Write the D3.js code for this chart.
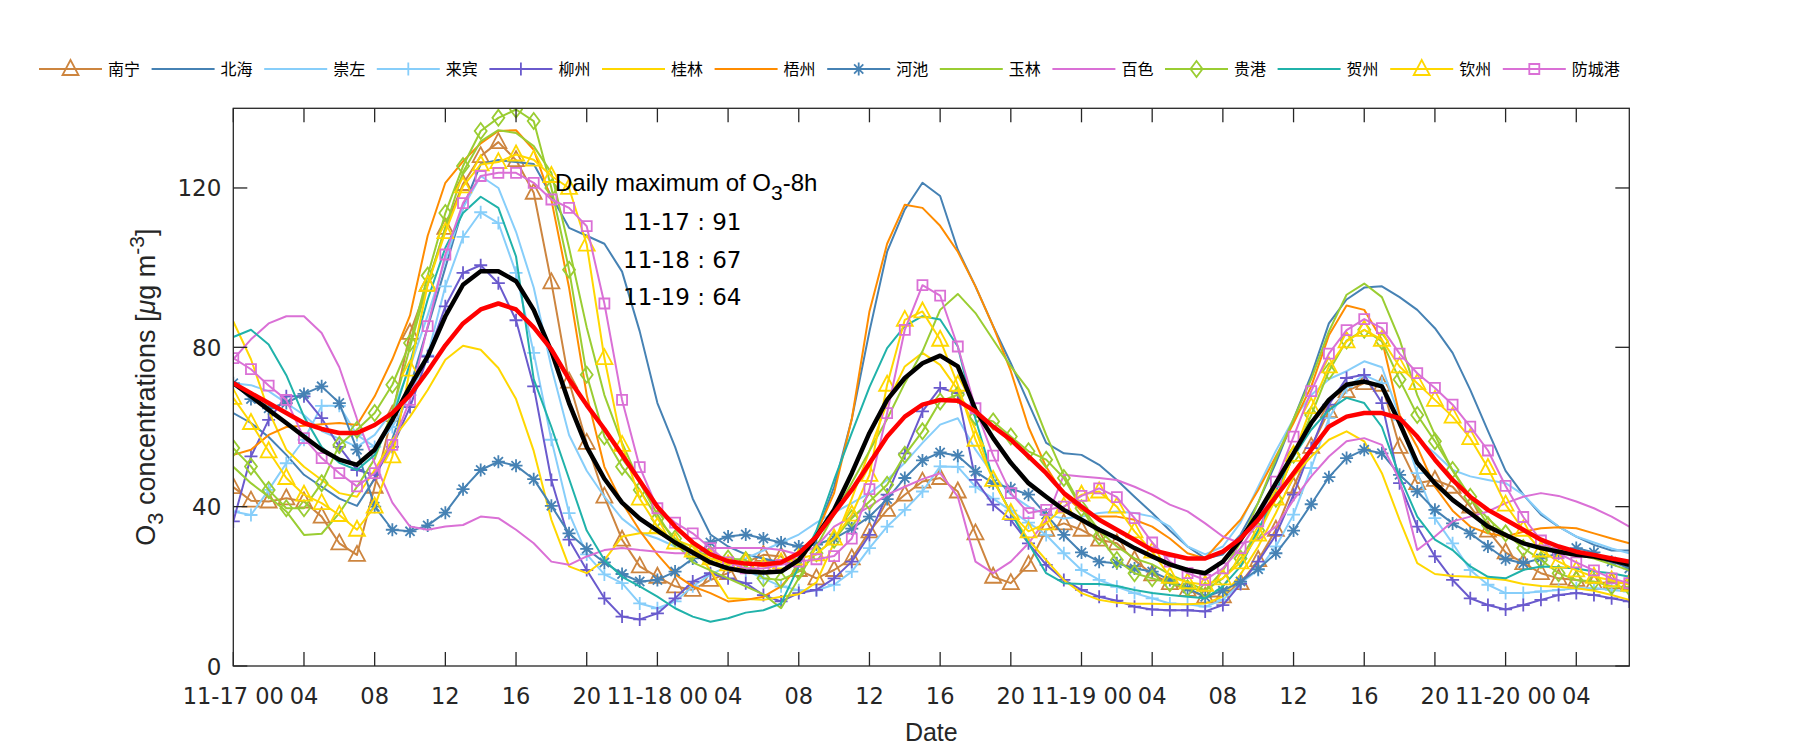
<!DOCTYPE html>
<html><head><meta charset="utf-8">
<script src="https://cdn.jsdelivr.net/npm/d3@7"></script>
<style>body{margin:0;background:#fff;} svg{display:block;}</style>
</head><body>
<svg id="chart" width="1800" height="750"></svg>
<script>
// ---------- data ----------
const stations = ["南宁","北海","崇左","来宾","柳州","桂林","梧州","河池","玉林","百色","贵港","贺州","钦州","防城港"];

const nanning = [44.9,41.5,41.3,42.1,41.3,37.5,30.8,27.9,45,63,
83.6,95.7,110,121,128,131.5,127,118.8,96.3,71.4,
56,42.5,31.7,25,22.4,20,19.1,21.6,23.3,26,
27.9,27.5,24.1,22,24.1,27,33.8,39.2,43,46.3,
47.2,43.8,33.3,22.4,20.8,25.4,34.2,35.8,34.2,31.7,
30.8,26.6,23,20.8,19.1,17.4,17.5,20.8,26.6,34.2,
45,55,64,69,71,70.6,55,45.9,46.7,45,
40,34,28.5,25.8,23.3,22,21.6,20.8,21,20.8];
const beihai = [63.5,61,57.5,53,48,45,42,40.2,47,57,
70,85,100,115,126,127,126.5,126,118,110,
108,106,99,84,66,55,42,33,30,28,
27,26,27,33,45,62,84,104,114.6,121.3,
118,104.5,95.3,85.3,76,66,56,53.4,53,50.5,
46.7,42.5,38.4,34,30,27,28,33,41,51,
62,73,86,92,95,95.3,92.6,89.4,84.8,78.6,
69.3,59,49,43,38,35,32.5,30.4,29,29];
const chongzuo = [71,70.5,69,66,63,59,57,55,58,64,
75,88,102,115,123,120,109,95,75,58,
49,42.5,37,33.5,32,30,28,27,26.5,27,
29,31,33,36,38.5,40.9,43.4,46.7,51,56,
60.6,62.2,54.3,48,43,40,38,37,37.5,38.4,
38.8,38.4,37.5,35,30,28,30,36,45,54,
62,68,72,74,76.5,75,62.6,57,53.4,49.2,
47.6,46.7,45.9,43,38.4,35,32.5,31,29.5,28.3];
const laibin = [38.8,37.9,44.2,50.9,56.8,65.3,65.3,58,55,60,
68,78,95.3,107.7,113.9,111.2,98.7,78.6,56.8,38.4,
28,23,20.8,15.7,14.5,16.2,20,23,25,24,
22,20,19,19,20.4,23.7,29.6,35,39.2,43.8,
50.1,50,45,42,39,36,32.9,28.3,24.1,21.6,
19.9,18.3,17,15.7,15.5,14.9,16.6,20.8,24.1,30,
38,49.7,62.2,70,73,71,61.8,48.4,37.1,30.8,
24.1,20.4,18.3,18.3,18.7,19.1,19.5,19.5,19.1,18.7];
const liuzhou = [36.3,52.6,61.8,67.7,67.7,62.2,55,49.2,48,55,
65,77.7,90.3,98.7,100.6,96.1,86.8,70.2,46.7,31.7,
24.1,17,12.4,11.7,13.2,17,21.2,23.3,22,20.8,
17.8,16.2,18.3,19.1,22,26.2,32.9,43,53.4,63.9,
69.8,68.5,46.7,40.5,36.7,30.8,25.4,21.6,19.1,17.4,
16.4,14.9,14.2,14,14,13.7,15.3,20.6,26.2,32.9,
43,54.7,65.6,72.3,73.1,66,45.9,35,27.5,21.6,
17,15.3,14.2,15.3,16.6,17.8,18.3,17.8,17,16.2];
const guilin = [86.5,77,64,54.3,50,46.7,43.4,42.5,49.2,56.8,
62.6,69.3,76.9,80.4,79.4,74.8,67,54,36.7,25,
23.3,26.6,32.5,33.3,33.3,31.7,30,24,17,16.8,
16.6,17.4,18,21,31,42,54,66,75.2,78.6,
75.6,69.3,59.3,46.7,38.5,31.7,26.6,21.6,18.3,16.6,
15.9,15.6,15.6,15.5,15.5,15.7,17.4,23,30,38.4,
47.6,52.6,56.8,58.9,56.4,48.4,36.7,25.8,23.1,22.6,
22.4,22,21.6,20.6,20.1,19.9,19.5,18.9,17.8,16.6];
const wuzhou = [53,54.3,58,60,60.3,60.7,61,60.5,67.7,77,
88,108,121.3,126.7,131.2,134.3,134.5,129.6,117,95,
68,50,41,34,28,23,20,18.3,16.2,16.6,
17.4,20,25,33.3,43.4,62,89,106,115.8,115,
110.5,104,95.3,85.3,74,60,50,43,39,37.5,
37.5,36.7,35,32,28.3,27,32,36.7,44.2,52.6,
61,70.2,83,90.5,89.4,81.9,63,55,45,39,
35,33.3,32.5,33.7,34.6,34.8,34.6,33.3,32,30.8];
const hechi = [71,67,64.7,66,68.3,70.2,66,54.3,40,34.2,
33.8,35.3,38.5,44.4,49.2,51.3,50.3,46.9,40.2,33.3,
29.4,26,23.1,21.2,21.6,23.7,27,31,32.5,33,
32,31,30,30.5,32,34.5,37.5,41.9,47.2,51.6,
53.6,52.8,48.8,45.9,44.6,43,38,32.9,28.5,26.2,
25.8,24.5,23.7,21.6,19.5,17.4,18.9,21.2,24.3,28.3,
34,40.6,47.4,52.2,54.3,53.4,48,43.8,39.2,35.8,
33.3,30,26.8,25.8,27,28.3,29.6,28.5,26.2,24.5];
const yulin = [50,45.9,42.5,38.8,32.9,33.2,38.4,45,52,64,
80,96,110,124,131.7,134.5,133.8,130.5,123.8,105,
85,68,56,46,38,31,26,24,22,20,
18,14.5,22,30,38,46,54,62,71,79,
89.4,93.4,88.6,81.9,75.2,69.3,58,48,40,34,
30,27,25.5,23,21,19,24,31,41,52,
62,72,84,93.2,96,92.6,82,68,58,49,
42,37,33,31,30,29.5,28,27,25.5,24];
const baise = [77,82,86,87.8,87.8,83.6,75,62,51,41,
35,34.2,35,35.4,37.5,37.1,34.2,30.8,26.2,25.4,
27.5,29.1,29.6,29.1,28.7,28.3,28.3,29.6,29.6,29.6,
29.6,29.1,28,30,35,37.5,40,43,45,46.9,
48.4,42.5,26.2,23.3,26.2,30.8,36.7,48,47.6,47.2,
46.7,45,43,40.5,38.8,35.8,32.5,30.8,31.7,35,
41.7,47.6,52.6,56.4,57.2,55.5,46.7,29.1,32.5,36.3,
37.5,38.8,40.9,42.5,43.4,42.7,41.3,39.6,37.5,35];
const guigang = [54.7,50.1,44.2,39.6,39.6,45.9,55.5,59.3,63.5,70.6,
81.1,98,113.7,125.5,134.3,137.6,139.7,136.8,120,99.5,
73.1,57.6,50,44.2,37,32,28.7,27.9,27,26.6,
22,21.6,23.7,28.3,31.7,37.1,41.3,45.5,53,58.9,
66.4,68.1,62.6,61.4,57.6,53.9,51.8,47.2,39.6,32.5,
26.6,23.3,22,20.8,19.5,19,22,27,34,42,
53,63,74,81.7,84.4,81.5,71.9,63,56.4,49.2,
42.5,35.4,33.3,29.6,26.6,23.3,21.6,21.2,20,19.8];
const hezhou = [82.6,84.4,80.7,73,62.6,55,51,49.2,53,62,
76,92,105,113.7,117.8,115,102.8,72,60,47,
34,26.6,22.4,20,17.4,14.5,12.4,11.1,12,13.4,
14,15.7,25,34,46.7,58.5,70,79.8,85.3,87.8,
87,80.2,62,47,38.4,30.8,23.3,20.8,20.6,20.6,
20.1,19.1,18.3,17.8,17.4,17,20,25,34,44,
52.6,59.3,64.3,67.3,66,60,47.6,37.5,31.7,29.1,
25,22.4,22,24.1,25,24.8,24.5,23.7,23.3,22.4];
const qinzhou = [67.3,61,53.9,47.2,43,40.9,37.9,34.2,40,52.6,
74.4,95.7,108.9,120.4,125.9,126.5,128.4,127.1,123,120,
105.8,77.3,55.5,42,35,31,29,27,25.5,26,
25,26,27,28,32,38,48,70.6,86.9,89,
81.9,70.6,56.8,46.7,38.4,33.8,35.8,40,43,43.8,
40,33.8,28.7,22.4,21,20.4,22,26,33,42,
53,65,75.2,81.5,84.4,81.9,75.2,71,66.8,62.6,
57.2,49.7,40.5,34.2,29,26.2,24,22.4,21.5,20.4];
const fangchenggang = [77.3,74.5,70.4,66.8,57.2,52.2,48.4,45.1,48.4,55.5,
66.8,85.3,103.3,116.2,123,123.8,123.8,121.3,117.1,115,
110.4,91,66.8,49.9,39.6,36,33.3,29.6,26,24.5,
24.5,25.4,26.2,26.8,27.6,32,44.4,63.5,84.4,95.6,
93,80.2,64.7,52.8,43.4,38.4,39.2,40,42.7,44.6,
42.4,37.1,31,26.2,23.3,21.6,24.5,29.6,36.3,46.3,
57.6,69,78.4,84.3,87.1,84.8,78.4,73.5,69.8,65.6,
60.1,54.1,45.2,37.4,31.5,28.3,26,24,22,20.8];
const meanAll = [71,67.7,64.3,61,57.6,54.3,51.8,50.5,54.3,61.8,
70.2,77.7,87.8,95.7,99.1,99.1,96.6,89.4,79,66,
55,47,41,37,34,31,28.5,26,24.5,23.7,
23.5,23.7,26.6,32.5,39.2,48.4,58.5,66.8,72.3,76,
77.9,75.2,64.3,57.2,51,45.9,42.5,39.2,36.7,34.2,
32.1,29.6,27.5,25.5,24.1,23.3,26.2,31.7,38.4,45.9,
53.4,61,66.8,70.6,71.4,70.2,61,51,45.9,41.7,
38.4,35,32.9,30.8,29.6,28.7,27.9,27.5,26.6,25.4];
const o3_8h = [71,68.5,66,63.5,61,59.5,58.5,58.5,60.5,63.5,
68,74,80.5,86,89.5,91,89.5,85,79.5,72,
65.5,59.5,53,46.5,40,35,31,28,26.3,25.7,
25.5,26,28.3,32.5,38.4,44.2,50.9,57.6,62.6,65.6,
66.8,66.6,63.9,60.1,56.8,52.6,48.4,43.4,40,36.7,
34.2,31.7,29.1,28,27,27,28.7,32,36.7,42.5,
48.4,54.3,60.1,62.6,63.5,63.5,62.2,57.6,51.8,46.7,
42.5,39.2,36.7,34.2,31.7,30,28.7,27.9,27,26.2];

const xTickHours = [0,4,8,12,16,20,24,28,32,36,40,44,48,52,56,60,64,68,72,76];
const xTickLabels = ["11-17 00","04","08","12","16","20","11-18 00","04","08","12","16","20","11-19 00","04","08","12","16","20","11-20 00","04"];
const yTicks = [0,40,80,120];
const annotTitle = "Daily maximum of O";
const annotLines = ["11-17 : 91","11-18 : 67","11-19 : 64"];

// ---------- styles ----------
const seriesData = [nanning,beihai,chongzuo,laibin,liuzhou,guilin,wuzhou,hechi,yulin,baise,guigang,hezhou,qinzhou,fangchenggang];
const colors = ["#CD853F","#4682B4","#87CEFA","#87CEFA","#6A5ACD","#FFD700","#FF8C00","#4682B4","#9ACD32","#DA70D6","#9ACD32","#20B2AA","#FFD700","#DA70D6"];
const markerTypes = ["triangle","none","none","plus","plus","none","none","star","none","none","diamond","none","triangle","square"];
const markerPaths = {
  triangle: "M0,-9L8,6L-8,6Z",
  square: "M-5,-5H5V5H-5Z",
  diamond: "M0,-8L6,0L0,8L-6,0Z",
  plus: "M-6.5,0H6.5M0,-6.5V6.5",
  star: "M-6.5,0H6.5M0,-6.5V6.5M-4.6,-4.6L4.6,4.6M-4.6,4.6L4.6,-4.6"
};

const svg = d3.select("#chart");
const W = 1800, H = 750;
const plot = {left: 233.3, right: 1629.3, top: 108.3, bottom: 666};
const x = d3.scaleLinear().domain([0, 79]).range([plot.left, plot.right]);
const y = d3.scaleLinear().domain([0, 140]).range([plot.bottom, plot.top]);

const txtFont = "'Liberation Sans', Arial, sans-serif";
const numFont = "'DejaVu Sans', sans-serif";
const axisCol = "#262626";

svg.append("rect").attr("width", W).attr("height", H).attr("fill", "#fff");

svg.append("clipPath").attr("id","clip").append("rect")
  .attr("x", plot.left).attr("y", plot.top)
  .attr("width", plot.right-plot.left).attr("height", plot.bottom-plot.top);

const gPlot = svg.append("g").attr("clip-path","url(#clip)");
const line = d3.line().x((d,i)=>x(i)).y(d=>y(d));

seriesData.forEach((arr, k) => {
  const g = gPlot.append("g");
  g.append("path").datum(arr).attr("d", line)
    .attr("fill","none").attr("stroke", colors[k]).attr("stroke-width", 2)
    .attr("stroke-linejoin","round");
  if (markerTypes[k] !== "none") {
    g.selectAll("path.m").data(arr).enter().append("path").attr("class","m")
      .attr("d", markerPaths[markerTypes[k]])
      .attr("transform", (d,i)=>`translate(${x(i)},${y(d)})`)
      .attr("fill","none").attr("stroke", colors[k]).attr("stroke-width", 1.8);
  }
});

gPlot.append("path").datum(meanAll).attr("d", line)
  .attr("fill","none").attr("stroke","#000").attr("stroke-width",4.5).attr("stroke-linejoin","round");
gPlot.append("path").datum(o3_8h).attr("d", line)
  .attr("fill","none").attr("stroke","#FF0000").attr("stroke-width",4.5).attr("stroke-linejoin","round");

// axes box
const gAx = svg.append("g");
gAx.append("rect").attr("x", plot.left).attr("y", plot.top)
  .attr("width", plot.right-plot.left).attr("height", plot.bottom-plot.top)
  .attr("fill","none").attr("stroke", axisCol).attr("stroke-width",1.3);

const tl = 14;
xTickHours.forEach(h => {
  const xx = x(h);
  gAx.append("line").attr("x1",xx).attr("x2",xx).attr("y1",plot.bottom).attr("y2",plot.bottom-tl).attr("stroke",axisCol).attr("stroke-width",1.3);
  gAx.append("line").attr("x1",xx).attr("x2",xx).attr("y1",plot.top).attr("y2",plot.top+tl).attr("stroke",axisCol).attr("stroke-width",1.3);
});
yTicks.forEach(v => {
  const yy = y(v);
  gAx.append("line").attr("x1",plot.left).attr("x2",plot.left+tl).attr("y1",yy).attr("y2",yy).attr("stroke",axisCol).attr("stroke-width",1.3);
  gAx.append("line").attr("x1",plot.right).attr("x2",plot.right-tl).attr("y1",yy).attr("y2",yy).attr("stroke",axisCol).attr("stroke-width",1.3);
  gAx.append("text").attr("x", plot.left-12).attr("y", yy+8.5)
    .attr("text-anchor","end").attr("font-family",numFont).attr("font-size",23)
    .attr("fill",axisCol).text(v);
});
xTickHours.forEach((h,i) => {
  gAx.append("text").attr("x", x(h)).attr("y", plot.bottom+38)
    .attr("text-anchor","middle").attr("font-family",numFont).attr("font-size",22.5)
    .attr("fill",axisCol).text(xTickLabels[i]);
});

// axis labels
svg.append("text").attr("x", (plot.left+plot.right)/2).attr("y", 741)
  .attr("text-anchor","middle").attr("font-family",txtFont).attr("font-size",25)
  .attr("fill",axisCol).text("Date");

const yl = svg.append("text").attr("transform",`translate(155,${(plot.top+plot.bottom)/2}) rotate(-90)`)
  .attr("text-anchor","middle").attr("font-family",txtFont).attr("font-size",27).attr("fill",axisCol);
yl.append("tspan").text("O");
yl.append("tspan").attr("dy",8).attr("font-size",22).text("3");
yl.append("tspan").attr("dy",-8).text(" concentrations [");
yl.append("tspan").attr("font-style","italic").text("μ");
yl.append("tspan").text("g m");
yl.append("tspan").attr("dy",-11).attr("font-size",21).text("-3");
yl.append("tspan").attr("dy",11).text("]");

// annotation
const an = svg.append("text").attr("x", 555).attr("y", 191)
  .attr("font-family",txtFont).attr("font-size",24).attr("fill","#000");
an.append("tspan").text(annotTitle);
an.append("tspan").attr("dy",9).attr("font-size",21).text("3");
an.append("tspan").attr("dy",-9).text("-8h");
annotLines.forEach((s,i) => {
  svg.append("text").attr("x", 623).attr("y", 230 + i*37.6)
    .attr("font-family",numFont).attr("font-size",23).attr("fill","#000")
    .attr("xml:space","preserve").text(s);
});

// legend
const legY = 69, legX0 = 39, legStep = 112.6, legLen = 63;
stations.forEach((name,k) => {
  const lx = legX0 + k*legStep;
  const g = svg.append("g");
  g.append("line").attr("x1",lx).attr("x2",lx+legLen).attr("y1",legY).attr("y2",legY)
    .attr("stroke",colors[k]).attr("stroke-width",2);
  if (markerTypes[k] !== "none") {
    g.append("path").attr("d", markerPaths[markerTypes[k]])
      .attr("transform",`translate(${lx+legLen/2},${legY})`)
      .attr("fill","none").attr("stroke",colors[k]).attr("stroke-width",1.8);
  }
  g.append("text").attr("x", lx+legLen+6).attr("y", legY+6)
    .attr("font-family","'Noto Sans CJK SC', sans-serif").attr("font-size",16)
    .attr("fill","#000").text(name);
});
</script>
</body></html>
